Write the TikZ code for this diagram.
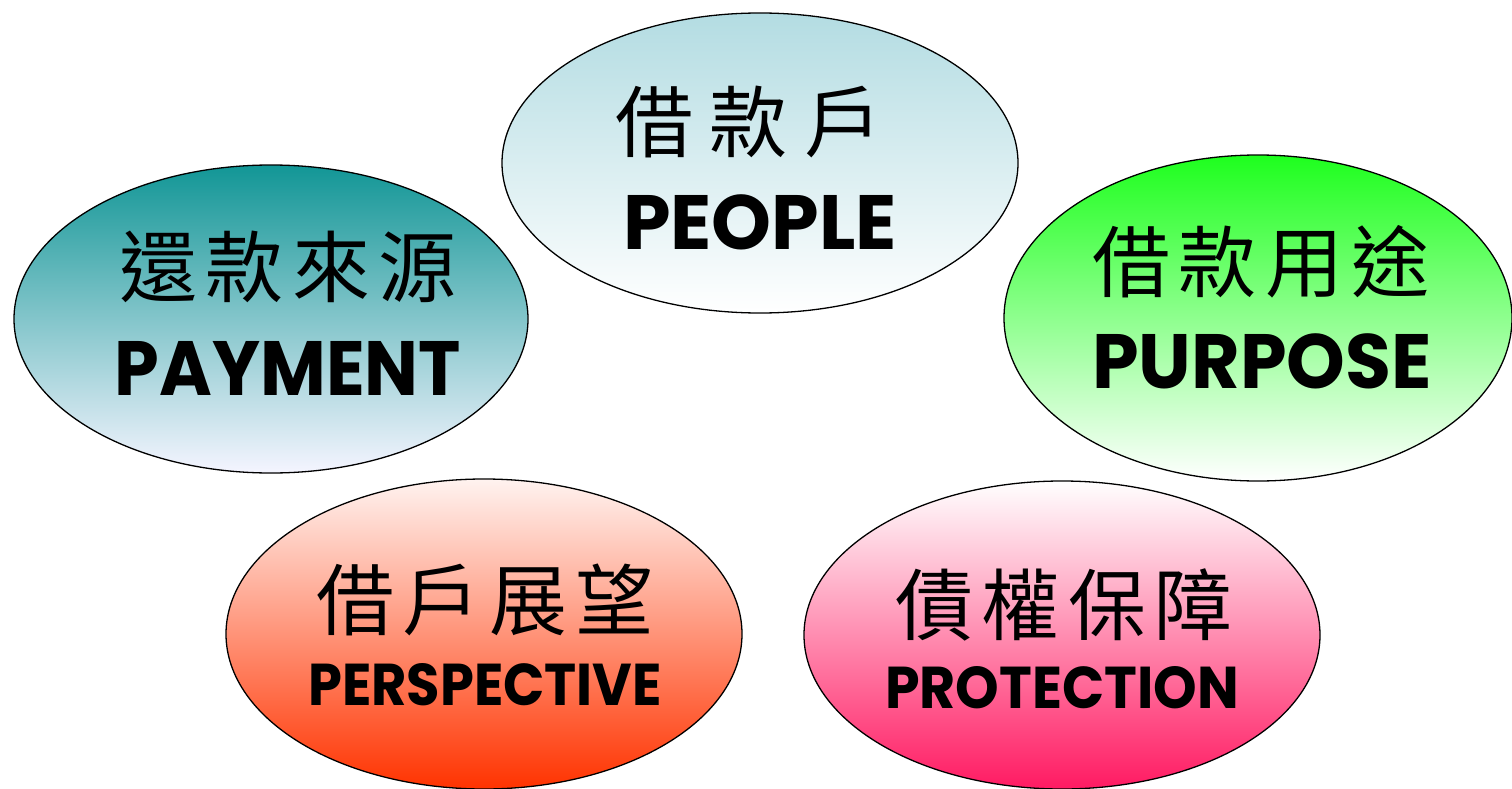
\documentclass[tikz,border=0pt]{standalone}
\usepackage{fontspec}
\usetikzlibrary{shapes.geometric}
\newfontfamily\cjkfont{Noto Sans CJK TC}[LetterSpace=11]
\newfontfamily\cjkwide{Noto Sans CJK TC}[LetterSpace=21]
\newfontfamily\latfont{Poppins}
\definecolor{pplTop}{HTML}{B3DCE2}
\definecolor{payTop}{HTML}{129696}
\definecolor{purTop}{HTML}{1EFF1E}
\definecolor{perBot}{HTML}{FF3300}
\definecolor{proBot}{HTML}{FF1A62}
\tikzset{
  oval/.style={ellipse, draw=black, line width=1.3pt, inner sep=0pt},
  zh/.style={font=\cjkfont\fontsize{78}{78}\selectfont, inner sep=0pt},
  zhwide/.style={font=\cjkwide\fontsize{78}{78}\selectfont, inner sep=0pt},
  enbig/.style={font=\latfont\bfseries\fontsize{77}{77}\selectfont, inner sep=0pt},
  ensmall/.style={font=\latfont\bfseries\fontsize{59}{59}\selectfont, inner sep=0pt}
}
\begin{document}
\begin{tikzpicture}[x=1pt,y=-1pt]
\useasboundingbox (0,0) rectangle (1512,789);
\clip (0,0) rectangle (1512,789);
\node[oval, top color=pplTop, bottom color=white, minimum width=516pt, minimum height=300pt] (people) at (760,163) {};
\node[oval, top color=payTop, bottom color=white!96!blue, minimum width=514pt, minimum height=308pt] (payment) at (271,319) {};
\node[oval, top color=purTop, bottom color=white, minimum width=508pt, minimum height=326pt] (purpose) at (1258,318) {};
\node[oval, top color=white!94!perBot, bottom color=perBot, minimum width=516pt, minimum height=310pt] (persp) at (484,634) {};
\node[oval, top color=white, bottom color=proBot, minimum width=516pt, minimum height=308pt] (protect) at (1062,635) {};

\node[zhwide] (people-zh) at (749,122) {借款戶};
\node[enbig] (people-en) at (760,222) {\scalebox{0.99}[1]{PEOPLE}};
\node[zh] (payment-zh) at (288,267) {還款來源};
\node[enbig] (payment-en) at (288,368) {\scalebox{0.93}[1]{PAYMENT}};
\node[zh] (purpose-zh) at (1261,262) {借款用途};
\node[enbig] (purpose-en) at (1262,361) {\scalebox{0.97}[1]{PURPOSE}};
\node[zh] (persp-zh) at (485,600) {借戶展望};
\node[ensmall] (persp-en) at (485,685) {\scalebox{0.92}[1]{PERSPECTIVE}};
\node[zh] (protect-zh) at (1064,605) {債權保障};
\node[ensmall] (protect-en) at (1062,688) {\scalebox{0.94}[1]{PROTECTION}};
\end{tikzpicture}
\end{document}
